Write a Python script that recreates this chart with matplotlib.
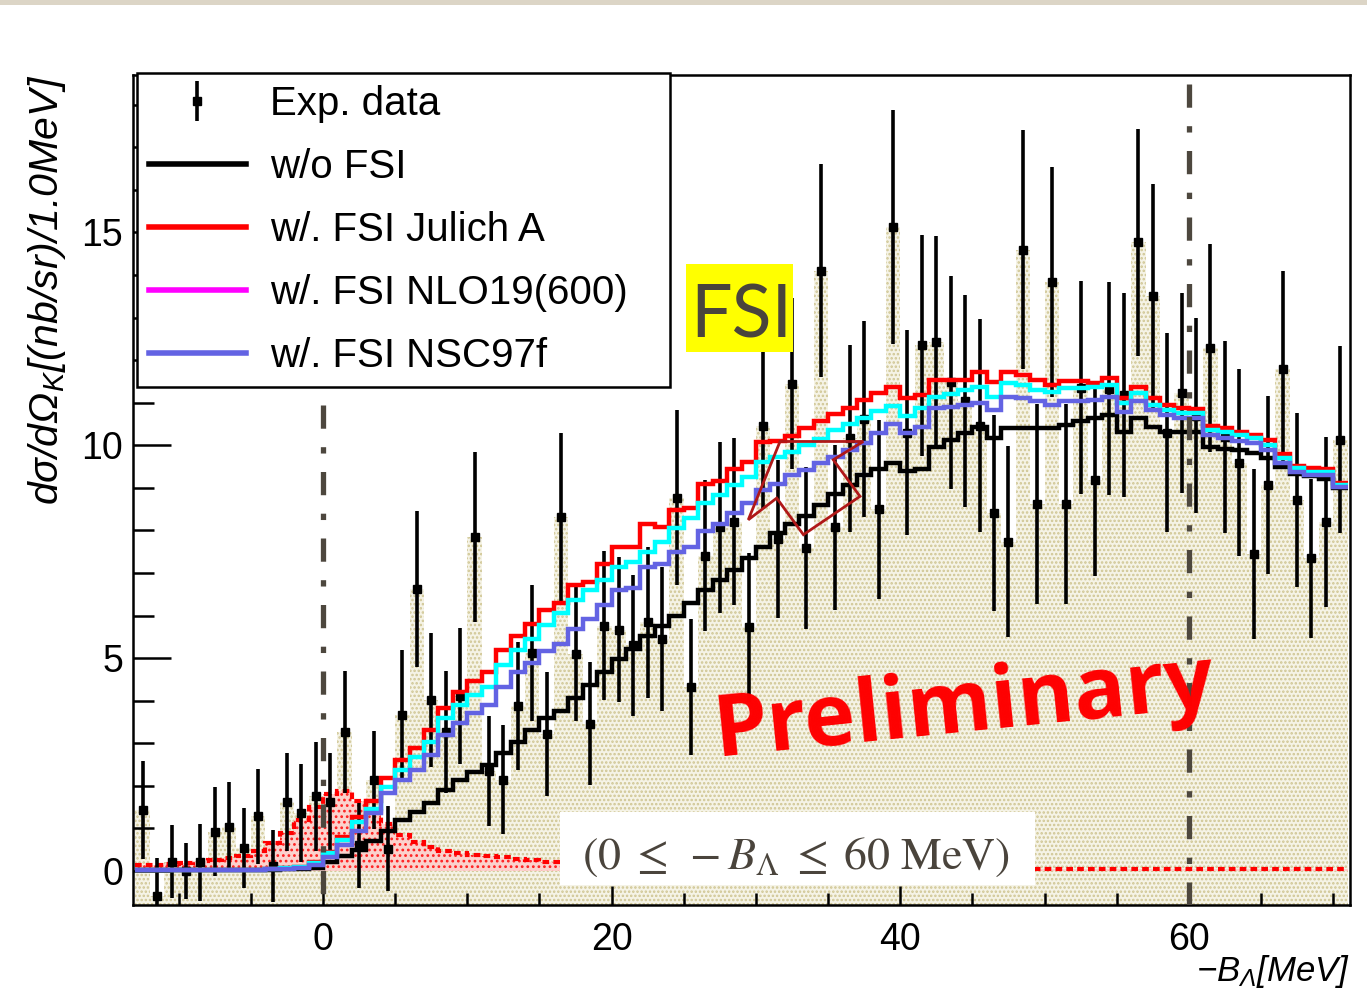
import numpy as np
import matplotlib
matplotlib.use("Agg")
import matplotlib.pyplot as plt
from matplotlib.lines import Line2D
from matplotlib.patches import Rectangle, Polygon
from matplotlib.ticker import MultipleLocator

# ---------------- data ----------------
bin_edges = np.arange(-13, 72)          # 1 MeV bins, -13 ... 71
exp_data = [1.43, -0.60, 0.22, 0.00, 0.20, 0.92, 1.04, 0.54, 1.28, 0.12,
            1.63, 1.37, 1.76, 1.63, 3.27, 0.60, 2.14, 0.52, 3.67, 6.63,
            4.02, 3.27, 4.11, 7.85, 2.35, 2.14, 3.88, 5.12, 3.22, 8.31,
            5.09, 3.46, 5.76, 5.67, 5.30, 5.84, 5.45, 8.77, 4.33, 7.41,
            8.07, 8.20, 5.72, 10.46, 7.80, 11.45, 7.59, 14.10, 8.07, 10.16,
            10.61, 8.50, 15.13, 10.30, 12.35, 12.42, 11.48, 11.04, 10.46, 8.41,
            7.74, 14.60, 8.61, 13.84, 8.61, 11.35, 9.18, 11.33, 11.19, 14.77,
            13.50, 10.30, 11.22, 10.70, 12.29, 10.20, 9.59, 7.44, 9.07, 11.79,
            8.71, 7.35, 8.20, 10.13]
exp_err = [1.15, 0.90, 0.85, 0.65, 0.90, 1.05, 1.06, 0.95, 1.12, 0.85,
           1.15, 1.15, 1.28, 1.15, 1.43, 1.00, 1.15, 1.00, 1.52, 1.83,
           1.57, 1.43, 1.60, 2.00, 1.30, 1.28, 1.50, 1.60, 1.45, 1.97,
           1.57, 1.45, 1.75, 1.70, 1.66, 1.78, 1.70, 2.05, 1.60, 1.78,
           2.00, 1.96, 1.75, 1.96, 1.85, 2.00, 1.90, 2.50, 1.93, 2.20,
           2.30, 2.10, 2.75, 2.40, 2.60, 2.50, 2.50, 2.50, 2.50, 2.30,
           2.25, 2.80, 2.35, 2.70, 2.35, 2.50, 2.26, 2.50, 2.40, 2.67,
           2.63, 2.33, 2.35, 2.30, 2.45, 2.25, 2.20, 2.00, 2.10, 2.30,
           2.05, 1.87, 2.00, 2.20]
wo_fsi = [0.02, 0.02, 0.02, 0.02, 0.02, 0.02, 0.02, 0.02, 0.02, 0.03,
          0.04, 0.05, 0.08, 0.20, 0.35, 0.50, 0.70, 0.95, 1.20, 1.39,
          1.59, 1.90, 2.14, 2.33, 2.49, 2.76, 3.04, 3.31, 3.59, 3.76,
          4.07, 4.37, 4.68, 4.97, 5.22, 5.51, 5.76, 6.00, 6.30, 6.60,
          6.84, 7.07, 7.35, 7.62, 7.95, 8.15, 8.35, 8.60, 8.85, 9.07,
          9.31, 9.45, 9.58, 9.40, 9.45, 9.97, 10.13, 10.28, 10.44, 10.17,
          10.40, 10.40, 10.40, 10.40, 10.48, 10.56, 10.64, 10.72, 10.32, 10.64,
          10.44, 10.32, 10.32, 10.32, 9.97, 9.92, 9.88, 9.82, 9.70, 9.50,
          9.33, 9.27, 9.22, 9.00]
julich_a = [0.03, 0.03, 0.03, 0.03, 0.03, 0.03, 0.03, 0.03, 0.03, 0.05,
            0.07, 0.10, 0.20, 0.45, 0.80, 1.27, 1.65, 2.18, 2.60, 2.88,
            3.31, 3.82, 4.21, 4.47, 4.67, 5.18, 5.53, 5.81, 6.13, 6.30,
            6.72, 6.78, 7.20, 7.62, 7.62, 8.16, 8.07, 8.47, 8.53, 9.09,
            9.15, 9.45, 9.61, 10.08, 10.10, 10.22, 10.40, 10.58, 10.74, 10.88,
            11.07, 11.22, 11.36, 11.10, 11.19, 11.54, 11.54, 11.54, 11.72, 11.49,
            11.72, 11.66, 11.54, 11.42, 11.52, 11.52, 11.47, 11.59, 11.12, 11.37,
            11.12, 10.95, 10.88, 10.85, 10.45, 10.40, 10.32, 10.25, 10.12, 9.80,
            9.52, 9.47, 9.45, 9.12]
nlo19_600 = [0.03, 0.03, 0.03, 0.03, 0.03, 0.03, 0.03, 0.03, 0.03, 0.05,
             0.06, 0.09, 0.18, 0.42, 0.72, 1.14, 1.45, 1.98, 2.37, 2.68,
             3.04, 3.59, 3.90, 4.14, 4.33, 4.84, 5.19, 5.44, 5.77, 6.06,
             6.36, 6.60, 6.84, 7.14, 7.26, 7.50, 7.74, 8.05, 8.29, 8.65,
             8.83, 9.07, 9.25, 9.60, 9.72, 9.85, 10.00, 10.15, 10.35, 10.50,
             10.65, 10.80, 10.93, 10.68, 10.87, 11.13, 11.20, 11.30, 11.36, 11.14,
             11.47, 11.42, 11.30, 11.26, 11.34, 11.34, 11.36, 11.42, 11.00, 11.22,
             10.95, 10.83, 10.76, 10.76, 10.36, 10.32, 10.25, 10.17, 10.01, 9.70,
             9.46, 9.38, 9.38, 9.07]
nsc97f = [0.03, 0.03, 0.03, 0.03, 0.03, 0.03, 0.03, 0.03, 0.03, 0.04,
          0.05, 0.08, 0.15, 0.33, 0.60, 0.95, 1.35, 1.82, 2.14, 2.37,
          2.73, 3.20, 3.47, 3.71, 3.90, 4.33, 4.68, 4.88, 5.17, 5.33,
          5.69, 5.93, 6.24, 6.60, 6.65, 7.14, 7.20, 7.50, 7.62, 7.99,
          8.16, 8.41, 8.65, 8.95, 9.10, 9.30, 9.43, 9.58, 9.72, 9.90,
          10.05, 10.30, 10.50, 10.30, 10.44, 10.87, 10.90, 10.95, 11.00, 10.83,
          11.14, 11.10, 11.03, 10.95, 11.03, 11.03, 11.07, 11.14, 10.79, 11.03,
          10.83, 10.72, 10.64, 10.64, 10.25, 10.17, 10.09, 10.05, 9.90, 9.58,
          9.38, 9.31, 9.31, 9.03]
lambda_peak = [0.13, 0.13, 0.17, 0.19, 0.23, 0.26, 0.30, 0.36, 0.48, 0.65,
               0.90, 1.20, 1.50, 1.80, 1.87, 1.65, 1.40, 1.10, 0.85, 0.68,
               0.57, 0.48, 0.43, 0.38, 0.35, 0.32, 0.29, 0.26, 0.22, 0.20,
               0.19, 0.18, 0.17, 0.16, 0.15, 0.14, 0.13, 0.12, 0.11, 0.10,
               0.10, 0.09, 0.09, 0.08, 0.08, 0.08, 0.07, 0.07, 0.07, 0.06,
               0.06, 0.06, 0.06, 0.05, 0.05, 0.05, 0.05, 0.05, 0.05, 0.05,
               0.04, 0.04, 0.04, 0.04, 0.04, 0.04, 0.04, 0.04, 0.04, 0.04,
               0.04, 0.04, 0.04, 0.04, 0.04, 0.04, 0.04, 0.04, 0.04, 0.04,
               0.04, 0.04, 0.04, 0.04]
range_limits = [0, 60]
range_line_top = [10.95, 18.5]
x_ticks = [0, 20, 40, 60]
y_ticks = [0, 5, 10, 15]
legend_labels = ["Exp. data", "w/o FSI", "w/. FSI Julich A",
                 "w/. FSI NLO19(600)", "w/. FSI NSC97f"]

XLIM = (-13.17, 71.17)
YLIM = (-0.8, 18.7)

# ---------------- figure ----------------
plt.rcParams['font.family'] = ['Liberation Sans', 'DejaVu Sans']
plt.rcParams['mathtext.fontset'] = 'custom'
plt.rcParams['mathtext.it'] = 'Liberation Sans:italic'
plt.rcParams['mathtext.rm'] = 'Liberation Sans:italic'
plt.rcParams['mathtext.sf'] = 'Liberation Sans'
plt.rcParams['hatch.linewidth'] = 1.2

W, H = 1367, 994
fig = plt.figure(figsize=(W / 100, H / 100), dpi=100)
fig.patch.set_facecolor('white')


def fx(px):
    return px / W


def fy(py):
    return 1 - py / H


ax = fig.add_axes([fx(133), fy(905), (1350 - 133) / W, (905 - 75) / H])
ax.set_xlim(*XLIM)
ax.set_ylim(*YLIM)

centers = 0.5 * (bin_edges[:-1] + bin_edges[1:])

# data histogram fill (beige dotted)
ax.stairs(exp_data, bin_edges, baseline=YLIM[0], fill=True,
          facecolor='#f5f3e6', edgecolor='#cfc592', hatch='....',
          linewidth=0, zorder=1)

# Lambda peak (red dotted)
ax.stairs(lambda_peak, bin_edges, baseline=0, fill=True,
          facecolor='#fbd2cd', edgecolor='#ff2020', hatch='...',
          linewidth=0, zorder=2)
ax.stairs(lambda_peak, bin_edges, baseline=None, color='#ff0000',
          linewidth=3, linestyle=(0, (1.6, 1.0)), zorder=2.5)

# experimental data
exp_handle = ax.errorbar(centers, exp_data, yerr=exp_err, fmt='s', color='black',
                         ms=6, elinewidth=2.6, capsize=0, zorder=3)

# theory curves
ax.stairs(wo_fsi, bin_edges, baseline=None, color='black', linewidth=3.2, zorder=4)
ax.stairs(julich_a, bin_edges, baseline=None, color='#ff0000', linewidth=3.2, zorder=4.1)
ax.stairs(nlo19_600, bin_edges, baseline=None, color='#00ffff', linewidth=3.2, zorder=4.2)
ax.stairs(nsc97f, bin_edges, baseline=None, color='#6363e3', linewidth=3.2, zorder=4.3)

# range lines
for xv, top in zip(range_limits, range_line_top):
    ax.plot([xv, xv], [top, YLIM[0]], color='#4d473e', linewidth=3.8,
            dashes=(4.4, 3.5, 1.2, 3.5), solid_capstyle='butt',
            dash_capstyle='butt', zorder=5)

# axes styling
for s in ax.spines.values():
    s.set_linewidth(1.8)
ax.xaxis.set_major_locator(MultipleLocator(20))
ax.xaxis.set_minor_locator(MultipleLocator(5))
ax.yaxis.set_major_locator(MultipleLocator(5))
ax.yaxis.set_minor_locator(MultipleLocator(1))
ax.set_xticks(x_ticks)
ax.set_yticks(y_ticks)
ax.tick_params(axis='both', which='both', direction='in', width=1.8,
               top=False, right=False)
ax.tick_params(axis='x', which='major', length=14, pad=12, labelsize=27)
ax.tick_params(axis='x', which='minor', length=9)
ax.tick_params(axis='y', which='major', length=27, pad=7, labelsize=27)
ax.tick_params(axis='y', which='minor', length=15)

ax.set_xlabel(r'$-B_{\Lambda}[MeV]$', fontsize=25, loc='right', labelpad=-3)
ax.set_ylabel(r'$d\sigma/d\Omega_{K}[(nb/sr)/1.0MeV]$', fontsize=29.5,
              loc='top', labelpad=10)

# legend
handles = [
    exp_handle,
    Line2D([], [], color='black', linewidth=4),
    Line2D([], [], color='#ff0000', linewidth=4),
    Line2D([], [], color='#ff00ff', linewidth=4),
    Line2D([], [], color='#6363e3', linewidth=4),
]
leg = ax.legend(handles, legend_labels, loc='upper left',
                bbox_to_anchor=(0.0033, 0.6277, 0.438, 0.3747),
                mode='expand', fontsize=29, frameon=True, fancybox=False,
                edgecolor='black', framealpha=1, borderpad=0.3,
                labelspacing=0.62, handlelength=2.4, handletextpad=0.6,
                borderaxespad=0)
leg.get_frame().set_linewidth(1.8)
leg.set_zorder(10)

# FSI yellow box
fig.patches.append(Rectangle((fx(686), fy(352)), (793 - 686) / W, (352 - 264) / H,
                             transform=fig.transFigure, facecolor='#ffff00',
                             edgecolor='none', zorder=20))
fig.text(fx(741), fy(338), 'FSI', ha='center', va='baseline', fontsize=53,
         family=['Lato', 'DejaVu Sans'], color='#4a443c', zorder=21)

# star outline
star = Polygon([(29.47, 8.25), (31.67, 10.09), (37.44, 10.09), (35.36, 9.66),
                (37.21, 8.80), (33.29, 7.90), (31.44, 8.76)],
               closed=True, fill=False, edgecolor='#b01818', linewidth=2.0,
               zorder=7)
ax.add_patch(star)

# white range box
ax.add_patch(Rectangle((16.42, -0.33), 49.34 - 16.42, 1.39 + 0.33,
                       facecolor='white', edgecolor='none', zorder=8))
ax.text(32.8, 0.05, r'$(0\;\leq\;-B_{\Lambda}\;\leq\;60\ \mathrm{MeV})$',
        math_fontfamily='stix', fontsize=33, color='#4a443c',
        ha='center', va='baseline', zorder=9)

# Preliminary
fig.text(fx(716), fy(756), 'Preliminary', rotation=5.8, rotation_mode='anchor',
         ha='left', va='baseline', fontsize=62, fontweight='bold',
         family=['Open Sans', 'DejaVu Sans'], color='#ff0000', zorder=22)

# slide strip at top
fig.patches.append(Rectangle((0, fy(5)), 1, 5 / H, transform=fig.transFigure,
                             facecolor='#dcd5c6', edgecolor='none', zorder=0))

fig.savefig('out.png', dpi=100)
